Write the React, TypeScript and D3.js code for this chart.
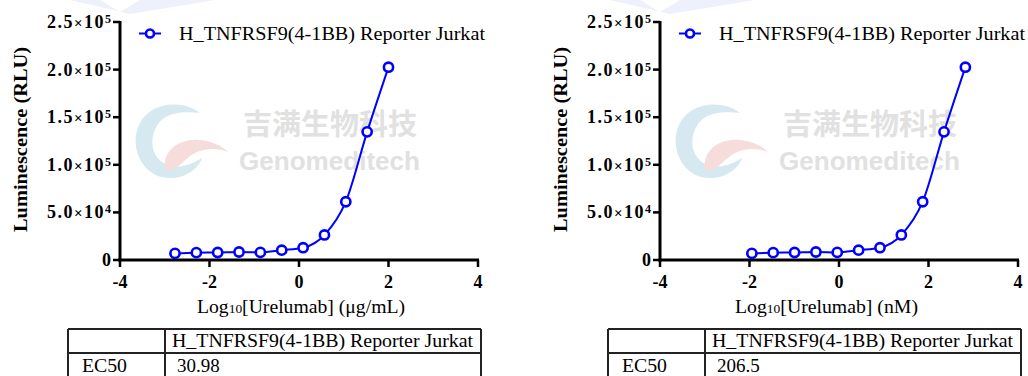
import * as d3 from "d3"

// log10 concentration, left panel (µg/mL) and right panel (nM)
const logUg = [-2.771, -2.294, -1.817, -1.34, -0.863, -0.386, 0.092, 0.569, 1.046, 1.523, 2.0]
const logNm = [-1.947, -1.47, -0.993, -0.516, -0.039, 0.438, 0.916, 1.393, 1.87, 2.347, 2.824]
const rluUg = [7000, 7700, 7900, 8400, 8000, 10300, 12900, 26300, 61200, 134600, 202500]
const rluNm = [7000, 7700, 7900, 8400, 8000, 10300, 12900, 26300, 61200, 134600, 202500]

const xTicks = [-4, -2, 0, 2, 4]
const yTicks = [0, 50000, 100000, 150000, 200000, 250000]
const yTickMantissa = ["0", "5.0", "1.0", "1.5", "2.0", "2.5"]
const yTickExp = ["", "4", "5", "5", "5", "5"]

const seriesName = "H_TNFRSF9(4-1BB) Reporter Jurkat"
const ec50Ug = "30.98"
const ec50Nm = "206.5"

const SERIF = "'Liberation Serif', 'Times New Roman', serif"
const BLUE = "#0000ff"

const MARGIN = { top: 22, left: 120, plotW: 358, plotH: 238 }

interface PanelProps {
  x0: number
  xs: number[]
  ys: number[]
  unit: string
  ec50: string
  labelCenter: number
  labelWidth: number
}

const Watermark = ({ x0 }: { x0: number }) => (
  <g transform={`translate(${x0},0)`} opacity={0.85}>
    <path
      d="M200,113 C185,100 150,100 139,125 C128,150 145,180 172,178 C190,177 200,165 202,158 C195,162 185,168 172,166 C152,163 147,140 158,124 C168,110 188,112 200,113 Z"
      fill="#cfe6ee"
    />
    <path
      d="M165,170 C162,150 180,138 200,140 C212,141 222,146 228,152 C218,148 205,148 195,153 C182,160 178,172 165,170 Z"
      fill="#f6d6d6"
    />
    <text
      x={243}
      y={135}
      fontFamily="'Noto Sans CJK SC', sans-serif"
      fontWeight={700}
      fontSize={29}
      fill="#dcdcdc"
    >
      吉满生物科技
    </text>
    <text
      x={239}
      y={170}
      fontFamily="'Liberation Sans', Arial, sans-serif"
      fontWeight={700}
      fontSize={26}
      fill="#dcdcdc"
      textLength={181}
    >
      Genomeditech
    </text>
  </g>
)

const Panel = ({ x0, xs, ys, unit, ec50, labelCenter, labelWidth }: PanelProps) => {
  const left = x0 + MARGIN.left
  const xScale = d3.scaleLinear().domain([-4, 4]).range([left, left + MARGIN.plotW])
  const yScale = d3
    .scaleLinear()
    .domain([0, 250000])
    .range([MARGIN.top + MARGIN.plotH, MARGIN.top])

  const pts: [number, number][] = xs.map((x, i) => [xScale(x), yScale(ys[i])])
  const line = d3.line().curve(d3.curveMonotoneX)(pts) || ""
  const base = yScale(0)

  // table
  const tLeft = x0 + 68
  const tRight = x0 + 481
  const tDiv = x0 + 165
  const tTop = 329
  const tMid = 353

  return (
    <g>
      <Watermark x0={x0} />

      {/* axes */}
      <line x1={left} x2={left} y1={MARGIN.top - 1} y2={base + 1.5} stroke="#000" strokeWidth={3} />
      <line x1={left - 1.5} x2={left + MARGIN.plotW + 1} y1={base} y2={base} stroke="#000" strokeWidth={3} />

      {yTicks.map((t, i) => (
        <g key={t}>
          <line x1={left - 7} x2={left} y1={yScale(t)} y2={yScale(t)} stroke="#000" strokeWidth={2.5} />
          <text
            x={left - 9}
            y={yScale(t) + 6}
            textAnchor="end"
            fontFamily={SERIF}
            fontWeight={700}
            fontSize={18}
            textLength={yTickExp[i] ? 64 : undefined}
          >
            {yTickMantissa[i]}
            {yTickExp[i] && (
              <>
                <tspan fontSize={15}>×</tspan>
                <tspan>10</tspan>
                <tspan fontSize={12} dy={-5}>
                  {yTickExp[i]}
                </tspan>
              </>
            )}
          </text>
        </g>
      ))}

      {xTicks.map((t) => (
        <g key={t}>
          <line x1={xScale(t)} x2={xScale(t)} y1={base} y2={base + 7} stroke="#000" strokeWidth={2.5} />
          <text
            x={xScale(t)}
            y={base + 28}
            textAnchor="middle"
            fontFamily={SERIF}
            fontWeight={700}
            fontSize={18}
          >
            {t}
          </text>
        </g>
      ))}

      <text
        transform={`translate(${x0 + 27},139.5) rotate(-90)`}
        textAnchor="middle"
        fontFamily={SERIF}
        fontWeight={700}
        fontSize={19}
        textLength={185}
        lengthAdjust="spacingAndGlyphs"
      >
        Luminescence (RLU)
      </text>

      <text
        x={x0 + labelCenter}
        y={313}
        textAnchor="middle"
        fontFamily={SERIF}
        fontSize={19}
        textLength={labelWidth}
        lengthAdjust="spacingAndGlyphs"
      >
        Log<tspan fontSize={13}>10</tspan>[Urelumab] ({unit})
      </text>

      {/* series */}
      <path d={line} fill="none" stroke={BLUE} strokeWidth={2} />
      {pts.map(([cx, cy], i) => (
        <circle key={i} cx={cx} cy={cy} r={4.6} fill="#fff" stroke={BLUE} strokeWidth={2.6} />
      ))}

      {/* legend */}
      <line x1={x0 + 139} x2={x0 + 161} y1={33.5} y2={33.5} stroke={BLUE} strokeWidth={2} />
      <circle cx={x0 + 150} cy={33.5} r={4} fill="#fff" stroke={BLUE} strokeWidth={2.6} />
      <text
        x={x0 + 179}
        y={40}
        fontFamily={SERIF}
        fontSize={19}
        textLength={306}
        lengthAdjust="spacingAndGlyphs"
      >
        {seriesName}
      </text>

      {/* EC50 table */}
      <g stroke="#222" strokeWidth={2} fill="none">
        <line x1={tLeft} x2={tRight} y1={tTop} y2={tTop} />
        <line x1={tLeft} x2={tRight} y1={tMid} y2={tMid} />
        <line x1={tLeft} x2={tLeft} y1={tTop} y2={380} />
        <line x1={tDiv} x2={tDiv} y1={tTop} y2={380} />
        <line x1={tRight} x2={tRight} y1={tTop} y2={380} />
      </g>
      <text
        x={tDiv + 7}
        y={347}
        fontFamily={SERIF}
        fontSize={19}
        textLength={301}
        lengthAdjust="spacingAndGlyphs"
      >
        {seriesName}
      </text>
      <text x={x0 + 82} y={372} fontFamily={SERIF} fontSize={19} textLength={45} lengthAdjust="spacingAndGlyphs">
        EC50
      </text>
      <text x={tDiv + 12} y={372} fontFamily={SERIF} fontSize={19}>
        {ec50}
      </text>
    </g>
  )
}

export default function App() {
  return (
    <svg
      width={1028}
      height={376}
      style={{ position: "absolute", left: 0, top: 0, background: "#fff" }}
    >
      <path d="M70,0 L100,0 L120,12 L140,0 L215,0 L130,14 Z" fill="#eef1fb" />
      <path d="M610,0 L640,0 L660,12 L680,0 L755,0 L670,14 Z" fill="#eef1fb" />
      <Panel x0={0} xs={logUg} ys={rluUg} unit="μg/mL" ec50={ec50Ug} labelCenter={301} labelWidth={208} />
      <Panel x0={540} xs={logNm} ys={rluNm} unit="nM" ec50={ec50Nm} labelCenter={286.5} labelWidth={183} />
    </svg>
  )
}
